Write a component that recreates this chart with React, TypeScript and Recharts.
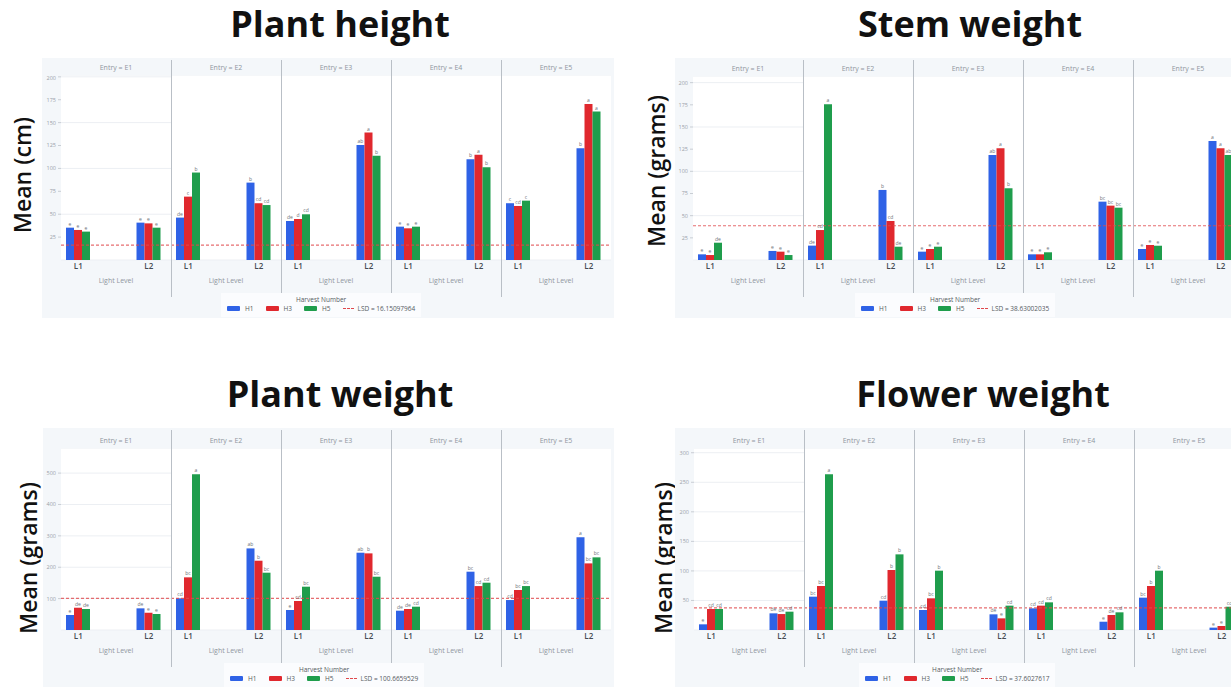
import React from "react";
import { BarChart, Bar, XAxis, YAxis, CartesianGrid, ReferenceLine, LabelList } from "recharts";

const entries = ["E1", "E2", "E3", "E4", "E5"];
const levels = ["L1", "L2"];
const harvests = ["H1", "H3", "H5"];
const COLORS = ["#2f62e6", "#e0282e", "#1f9d4c"];

// every series runs E1-L1, E1-L2, E2-L1, E2-L2 ... E5-L2
const heightH1 = [35.3, 40.8, 46.3, 84.5, 42.6, 125.7, 36.4, 110, 62, 122];
const heightH3 = [32.8, 40, 69.2, 62, 44.8, 139.2, 34.6, 114.8, 59, 170.2];
const heightH5 = [31, 35.3, 95.5, 60, 49.9, 113.7, 36.4, 101.3, 64.8, 162.1];
const heightLabH1 = ["e", "e", "de", "b", "de", "ab", "e", "b", "c", "b"];
const heightLabH3 = ["e", "e", "c", "cd", "d", "a", "e", "a", "cd", "a"];
const heightLabH5 = ["e", "e", "b", "cd", "cd", "b", "e", "b", "c", "a"];

const stemH1 = [6.4, 10.2, 16.2, 79, 9.4, 118.4, 6.4, 65.8, 12.4, 134.2];
const stemH3 = [5.6, 9.4, 33.8, 44, 12.4, 126, 6.4, 61.3, 16.9, 126];
const stemH5 = [19.5, 5.6, 175.6, 15, 15, 80.9, 8.7, 59, 16.1, 118.4];
const stemLabH1 = ["e", "e", "de", "b", "e", "ab", "e", "bc", "e", "a"];
const stemLabH3 = ["e", "e", "cd", "cd", "e", "a", "e", "bc", "e", "a"];
const stemLabH5 = ["de", "e", "a", "de", "e", "b", "e", "bc", "e", "ab"];

const plantH1 = [47.8, 69, 101, 260, 63.7, 246.3, 61.5, 185.8, 95.5, 295.2];
const plantH3 = [71, 55, 167.8, 220.8, 92.4, 244.2, 66.9, 140, 127.4, 212.3];
const plantH5 = [66.9, 51, 496, 182.6, 138, 169.8, 74.3, 150.7, 140, 231.5];
const plantLabH1 = ["e", "de", "cd", "ab", "e", "ab", "de", "bc", "cd", "a"];
const plantLabH3 = ["de", "e", "bc", "b", "cd", "b", "de", "cd", "bc", "bc"];
const plantLabH5 = ["de", "e", "a", "bc", "bc", "bc", "cd", "cd", "bc", "bc"];

const flowerH1 = [9.6, 28.2, 56.4, 49.6, 33.8, 26.5, 36.7, 14, 54.7, 4];
const flowerH3 = [35.5, 27, 74.5, 101.5, 53.6, 19.7, 41.2, 25.4, 74.5, 6.8];
const flowerH5 = [35.5, 31, 263.4, 128, 100.4, 41.2, 46.8, 29.9, 100.4, 39.4];
const flowerLabH1 = ["e", "de", "bc", "cd", "cd", "de", "cd", "e", "bc", "e"];
const flowerLabH3 = ["cd", "de", "bc", "b", "bc", "e", "cd", "de", "b", "e"];
const flowerLabH5 = ["cd", "cd", "a", "b", "b", "cd", "cd", "cd", "b", "cd"];

const heightTicks = [25, 50, 75, 100, 125, 150, 175, 200];
const stemTicks = [25, 50, 75, 100, 125, 150, 175, 200];
const plantTicks = [100, 200, 300, 400, 500];
const flowerTicks = [50, 100, 150, 200, 250, 300];

const buildRows = (vals: number[][], labs: string[][], e: number) =>
  levels.map((lv, j) => {
    const row: any = { level: lv };
    harvests.forEach((h, k) => {
      row[h] = vals[k][e * 2 + j];
      row[h + "lab"] = labs[k][e * 2 + j];
    });
    return row;
  });

const panels = [
  {
    title: "Plant height", titleX: 340, titleTop: 6,
    yLabel: "Mean (cm)", yLabelX: 22, yLabelY: 175,
    box: { left: 42, top: 58, width: 572, height: 260 },
    facetLeft: 61, plotTop: 75, plotBottom: 260, domain: [0, 202], ticks: heightTicks,
    vals: [heightH1, heightH3, heightH5], labs: [heightLabH1, heightLabH3, heightLabH5],
    lsd: 16.15097964, lsdText: "LSD = 16.15097964", legendLeft: 221, legendTop: 293,
  },
  {
    title: "Stem weight", titleX: 970, titleTop: 6,
    yLabel: "Mean (grams)", yLabelX: 656, yLabelY: 171,
    box: { left: 675, top: 58, width: 600, height: 260 },
    facetLeft: 693, plotTop: 76, plotBottom: 260, domain: [0, 207.5], ticks: stemTicks,
    vals: [stemH1, stemH3, stemH5], labs: [stemLabH1, stemLabH3, stemLabH5],
    lsd: 38.63002035, lsdText: "LSD = 38.63002035", legendLeft: 855, legendTop: 293,
  },
  {
    title: "Plant weight", titleX: 340, titleTop: 376,
    yLabel: "Mean (grams)", yLabelX: 28, yLabelY: 558,
    box: { left: 43, top: 428, width: 571, height: 260 },
    facetLeft: 61, plotTop: 448, plotBottom: 630, domain: [0, 580], ticks: plantTicks,
    vals: [plantH1, plantH3, plantH5], labs: [plantLabH1, plantLabH3, plantLabH5],
    lsd: 100.6659529, lsdText: "LSD = 100.6659529", legendLeft: 224, legendTop: 663,
  },
  {
    title: "Flower weight", titleX: 983, titleTop: 376,
    yLabel: "Mean (grams)", yLabelX: 663, yLabelY: 558,
    box: { left: 675, top: 428, width: 600, height: 260 },
    facetLeft: 694, plotTop: 448, plotBottom: 630, domain: [0, 308], ticks: flowerTicks,
    vals: [flowerH1, flowerH3, flowerH5], labs: [flowerLabH1, flowerLabH3, flowerLabH5],
    lsd: 37.6027617, lsdText: "LSD = 37.6027617", legendLeft: 859, legendTop: 663,
  },
];

const FACET_W = 110;

function Facet({ rows, left, top, plotH, domain, ticks, lsd, showAxis }: any) {
  const axisW = showAxis ? 20 : 0;
  return (
    <div style={{ position: "absolute", left: left - axisW, top }}>
      <BarChart
        width={FACET_W + axisW}
        height={plotH + 28}
        data={rows}
        margin={{ top: 0, right: 0, bottom: 0, left: 0 }}
        barGap={0}
        barSize={8}
      >
        <CartesianGrid vertical={false} fill="#ffffff" stroke="#eceff3" />
        <XAxis
          dataKey="level"
          axisLine={false}
          tickLine={false}
          tickSize={0}
          tickMargin={3}
          height={28}
          interval={0}
          padding={{ left: -18, right: -13 }}
          tick={{ fontSize: 8, fill: "#454a50", fontWeight: 600 }}
          label={{ value: "Light Level", position: "insideBottom", offset: 5, fontSize: 7, fill: "#8f969e" }}
        />
        <YAxis
          type="number"
          width={axisW}
          domain={domain}
          ticks={ticks}
          allowDataOverflow
          axisLine={false}
          tickSize={3}
          tickLine={showAxis ? { stroke: "#c9ced4" } : false}
          tick={showAxis ? { fontSize: 5.5, fill: "#9aa1a8" } : false}
        />
        {harvests.map((h, k) => (
          <Bar key={h} dataKey={h} fill={COLORS[k]} isAnimationActive={false}>
            <LabelList dataKey={h + "lab"} position="top" offset={2} fontSize={5} fill="#6b7077" />
          </Bar>
        ))}
        <ReferenceLine y={lsd} stroke="#e0484c" strokeOpacity={0.8} strokeDasharray="3 2" strokeWidth={1.2} />
      </BarChart>
    </div>
  );
}

function HarvestLegend({ left, top, lsdText }: any) {
  return (
    <div style={{ position: "absolute", left, top, background: "#fbfcfe", padding: "2px 6px 4px", fontSize: 6.5, color: "#555b62" }}>
      <div style={{ textAlign: "center", lineHeight: "9px" }}>Harvest Number</div>
      <div style={{ display: "flex", alignItems: "center", lineHeight: "9px", whiteSpace: "nowrap" }}>
        {harvests.map((h, k) => (
          <span key={h} style={{ display: "flex", alignItems: "center", marginRight: 12 }}>
            <span style={{ width: 13, height: 5, background: COLORS[k], borderRadius: 1, marginRight: 5 }} />
            {h}
          </span>
        ))}
        <span style={{ width: 11, borderTop: "1.2px dashed #e0484c", marginRight: 4 }} />
        {lsdText}
      </div>
    </div>
  );
}

function Panel({ p }: any) {
  const plotH = p.plotBottom - p.plotTop;
  return (
    <>
      <div
        style={{
          position: "absolute", left: p.titleX, top: p.titleTop, transform: "translateX(-50%)",
          fontSize: 36, fontWeight: 700, lineHeight: 1, whiteSpace: "nowrap", color: "#111",
        }}
      >
        {p.title}
      </div>
      <div
        style={{
          position: "absolute", left: p.yLabelX, top: p.yLabelY,
          transform: "translate(-50%, -50%) rotate(-90deg)",
          fontSize: 23, fontWeight: 600, whiteSpace: "nowrap", color: "#111",
        }}
      >
        {p.yLabel}
      </div>
      <div style={{ position: "absolute", ...p.box, background: "#f4f7fa" }} />
      {entries.map((en, e) => (
        <React.Fragment key={en}>
          <div
            style={{
              position: "absolute", left: p.facetLeft + e * FACET_W, width: FACET_W, top: p.plotTop - 12,
              textAlign: "center", fontSize: 7, lineHeight: "10px", color: "#8f969e",
            }}
          >
            Entry = {en}
          </div>
          <Facet
            rows={buildRows(p.vals, p.labs, e)}
            left={p.facetLeft + e * FACET_W}
            top={p.plotTop}
            plotH={plotH}
            domain={p.domain}
            ticks={p.ticks}
            lsd={p.lsd}
            showAxis={e === 0}
          />
          {e > 0 && (
            <div
              style={{
                position: "absolute", left: p.facetLeft + e * FACET_W, top: p.box.top + 2, width: 1,
                height: p.plotBottom + 37 - p.box.top - 2, background: "#b9bfc6",
              }}
            />
          )}
        </React.Fragment>
      ))}
      <HarvestLegend left={p.legendLeft} top={p.legendTop} lsdText={p.lsdText} />
    </>
  );
}

export default function App() {
  return (
    <div
      style={{
        position: "absolute", left: 0, top: 0, width: 1231, height: 687, overflow: "hidden",
        background: "#ffffff", fontFamily: "'Open Sans', sans-serif",
      }}
    >
      {panels.map((p) => (
        <Panel key={p.title} p={p} />
      ))}
    </div>
  );
}
